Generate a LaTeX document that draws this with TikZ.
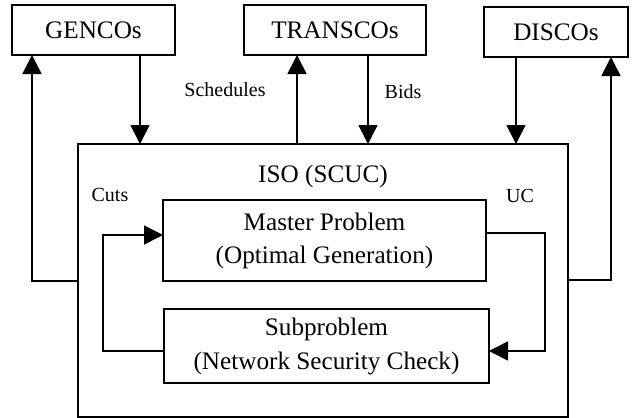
\documentclass[tikz,border=0pt]{standalone}
\usepackage{fontspec}
\setmainfont{Liberation Serif}
\usetikzlibrary{arrows.meta}
\begin{document}
\begin{tikzpicture}[x=0.5pt,y=-0.5pt,
  box/.style={draw,line width=0.8pt,rectangle,inner sep=0pt,outer sep=0pt,
    align=center,font=\fontsize{12.6}{17}\selectfont},
  lbl/.style={font=\fontsize{10}{12}\selectfont,inner sep=0pt},
  link/.style={line width=0.8pt},
  arr/.style={link,-{Triangle[length=9.5pt,width=9.5pt]}}]
\useasboundingbox (0,0) rectangle (638,418);

% market participants
\node[box,minimum width=81.5pt,minimum height=25pt] (gen) at (93.5,30) {GENCOs};
\node[box,minimum width=91pt,minimum height=25pt] (tra) at (335,30) {TRANSCOs};
\node[box,minimum width=72pt,minimum height=25pt] (dis) at (556,32) {DISCOs};

% ISO and its two subproblems
\node[box,minimum width=245pt,minimum height=136.5pt] (iso) at (323,280.5) {};
\node[lbl,font=\fontsize{12.6}{15}\selectfont] (isot) at (323,176) {ISO (SCUC)};
\node[box,minimum width=161.5pt,minimum height=40.5pt] (mas) at (324.5,240.5)
  {\raisebox{-1.5pt}{Master Problem}\\\raisebox{-1pt}{(Optimal Generation)}};
\node[box,minimum width=162.5pt,minimum height=37pt] (sub) at (326.5,346)
  {\raisebox{2pt}{Subproblem}\\\raisebox{2pt}{(Network Security Check)}};

% labels
\node[lbl] (lsch) at (225,90) {Schedules};
\node[lbl] (lbid) at (403,92) {Bids};
\node[lbl] (lcut) at (110,195) {Cuts};
\node[lbl] (luc) at (520,196) {UC};

% routing points
\coordinate (gUp) at (32,281);
\coordinate (gDn) at (140,0);
\coordinate (tUp) at (297,0);
\coordinate (tDn) at (368,0);
\coordinate (dDn) at (516,0);
\coordinate (dUp) at (611,280);
\coordinate (cutLo) at (103,351);
\coordinate (cutHi) at (103,235);
\coordinate (ucHi) at (545,233);
\coordinate (ucLo) at (545,351);

% connectors
\draw[arr] (iso.west |- gUp) -- (gUp) -- (gen.south -| gUp);
\draw[arr] (gen.south -| gDn) -- (iso.north -| gDn);
\draw[arr] (iso.north -| tUp) -- (tra.south -| tUp);
\draw[arr] (tra.south -| tDn) -- (iso.north -| tDn);
\draw[arr] (dis.south -| dDn) -- (iso.north -| dDn);
\draw[arr] (iso.east |- dUp) -- (dUp) -- (dis.south -| dUp);
\draw[arr] (sub.west |- cutLo) -- (cutLo) -- (cutHi) -- (mas.west |- cutHi);
\draw[arr] (mas.east |- ucHi) -- (ucHi) -- (ucLo) -- (sub.east |- ucLo);
\end{tikzpicture}
\end{document}
